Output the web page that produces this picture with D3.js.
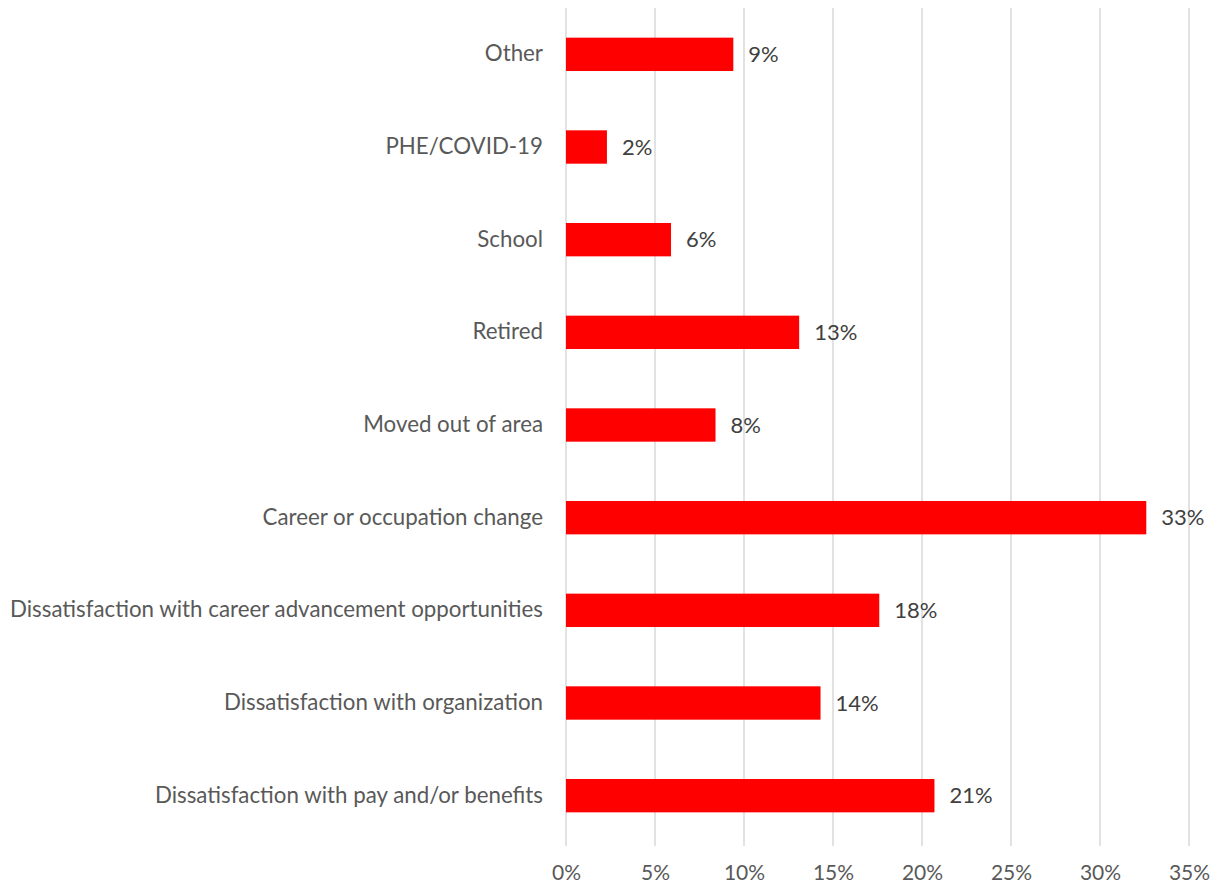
<!DOCTYPE html>
<html>
<head>
<meta charset="utf-8">
<script src="https://cdn.jsdelivr.net/npm/d3@7"></script>
<style>
  body { margin: 0; background: #fff; }
  text { font-family: Lato, "Liberation Sans", sans-serif; }
</style>
</head>
<body>
<svg id="chart"></svg>
<script>
// categories top to bottom, as they appear in the chart
const categories = ['Other', 'PHE/COVID-19', 'School', 'Retired', 'Moved out of area',
  'Career or occupation change', 'Dissatisfaction with career advancement opportunities',
  'Dissatisfaction with organization', 'Dissatisfaction with pay and/or benefits']
const values = [9.4, 2.3, 5.9, 13.1, 8.4, 32.6, 17.6, 14.3, 20.7]
const valueLabels = ['9%', '2%', '6%', '13%', '8%', '33%', '18%', '14%', '21%']
const xTicks = [0, 5, 10, 15, 20, 25, 30, 35]

const totalWidth = 1226, totalHeight = 886
const margin = {top: 8, right: 37, bottom: 44, left: 566}
const chartWidth = totalWidth - margin.left - margin.right,
  chartHeight = totalHeight - margin.top - margin.bottom

const svg = d3.select('#chart')
  .attr('width', totalWidth)
  .attr('height', totalHeight)

const chart = svg.append('g')
  .attr('transform', 'translate(' + margin.left + ',' + margin.top + ')')

const x = d3.scaleLinear()
  .domain([0, 35])
  .range([0, chartWidth])

const y = d3.scaleBand()
  .domain(categories)
  .range([0, chartHeight])
  .paddingInner(0.64)
  .paddingOuter(0.32)

// gridlines
chart.selectAll('.grid')
  .data(xTicks)
  .enter()
  .append('line')
  .attr('class', 'grid')
  .attr('x1', d => x(d))
  .attr('x2', d => x(d))
  .attr('y1', 0)
  .attr('y2', chartHeight + 4)
  .attr('stroke', '#d9d9d9')
  .attr('stroke-width', 1.5)

// x axis labels
const xAxis = d3.axisBottom(x)
  .tickValues(xTicks)
  .tickFormat(d => d + '%')
  .tickSize(0)
  .tickPadding(23)

const gx = chart.append('g')
  .attr('transform', 'translate(0,' + chartHeight + ')')
  .call(xAxis)
gx.select('.domain').remove()
gx.selectAll('text')
  .attr('fill', '#595959')
  .style('font-size', '21px')
  .style('font-family', 'Lato, sans-serif')

// category labels
const yAxis = d3.axisLeft(y).tickSize(0).tickPadding(23)
const gy = chart.append('g').call(yAxis)
gy.select('.domain').remove()
gy.selectAll('text')
  .attr('fill', '#595959')
  .style('font-size', '22.3px')
  .style('font-family', 'Lato, sans-serif')

// bars
chart.selectAll('.bar')
  .data(values)
  .enter()
  .append('rect')
  .attr('class', 'bar')
  .attr('x', 0)
  .attr('y', (d, i) => y(categories[i]))
  .attr('width', d => x(d))
  .attr('height', y.bandwidth())
  .attr('fill', '#ff0000')

// value labels
chart.selectAll('.val')
  .data(values)
  .enter()
  .append('text')
  .attr('class', 'val')
  .attr('x', d => x(d) + 15)
  .attr('y', (d, i) => y(categories[i]) + y.bandwidth() / 2)
  .attr('dy', '0.35em')
  .attr('fill', '#404040')
  .style('font-size', '22px')
  .text((d, i) => valueLabels[i])
</script>
</body>
</html>
